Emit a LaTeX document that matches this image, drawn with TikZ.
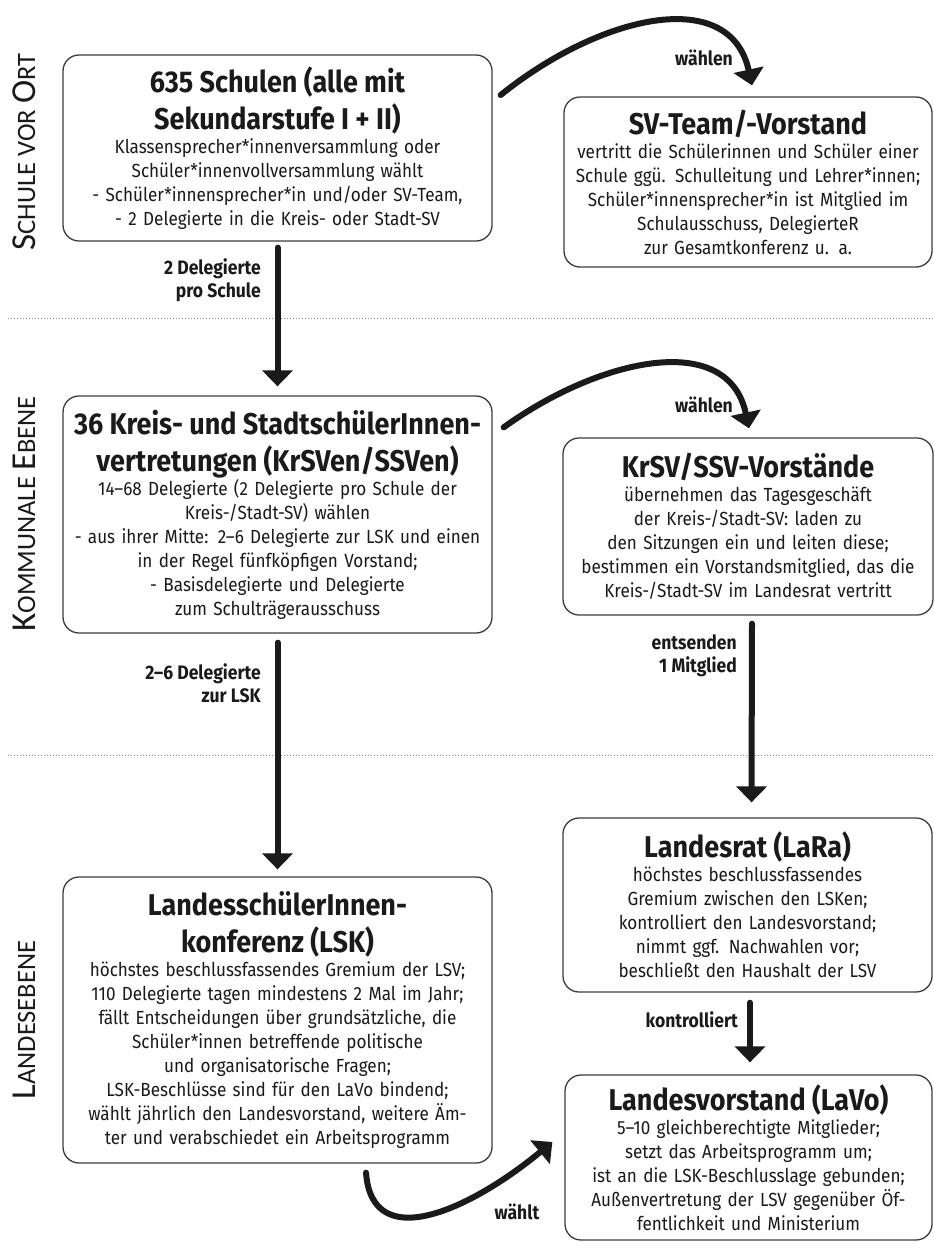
\documentclass[tikz,border=0pt]{standalone}
\usepackage{fontspec}
\setmainfont{Fira Sans}[FakeStretch=0.9]
\newfontfamily\sidefont{Carlito}
\usetikzlibrary{arrows.meta}
\definecolor{ink}{HTML}{1A1A1A}
\definecolor{frame}{HTML}{3C3C3C}
\newcommand\hd[1]{{\bfseries\fontsize{30}{37}\selectfont #1\par}}
\newcommand\bigC[1]{{\fontsize{35}{35}\selectfont #1}}
\tikzset{
  box/.style={draw=frame, line width=1.3pt, rounded corners=16pt, align=center,
    inner sep=0pt, text=ink, font=\fontsize{19}{24}\selectfont},
  flow/.style={draw=ink, line width=6pt, line cap=round, -{Triangle[width=30pt,length=16pt]}},
  lbl/.style={font=\bfseries\fontsize{19.5}{23}\selectfont, align=right, inner sep=0pt, text=ink},
  sidelbl/.style={rotate=90, inner sep=0pt, text=ink, font=\sidefont\fontsize{26.5}{27}\selectfont},
  levelline/.style={draw=gray, line width=1pt, dotted}
}
\begin{document}
\begin{tikzpicture}[x=1pt,y=-1pt]
\useasboundingbox (0,0) rectangle (934,1248);
\fill[white] (0,0) rectangle (934,1248);

% level separators
\coordinate (s1a) at (8,318); \coordinate (s1b) at (934,318);
\coordinate (s2a) at (8,755); \coordinate (s2b) at (934,755);
\draw[levelline] (s1a) -- (s1b);
\draw[levelline] (s2a) -- (s2b);

% side labels
\node[sidelbl] (side1) at (24,152) {\bigC{S}CHULE VOR \bigC{O}RT};
\node[sidelbl] (side2) at (24,514) {\bigC{K}OMMUNALE \bigC{E}BENE};
\node[sidelbl] (side3) at (24,1020) {\bigC{L}ANDESEBENE};

% boxes
\node[box, text width=425pt, minimum width=429pt, minimum height=186pt] (b1) at (277.5,148) {%
\hd{635 Schulen (alle mit\\Sekundarstufe I + II)}%
Klassensprecher*innenversammlung oder\\
Schüler*innenvollversammlung wählt\\
- Schüler*innensprecher*in und/oder SV-Team,\\
- 2 Delegierte in die Kreis- oder Stadt-SV};

\node[box, text width=364pt, minimum width=368pt, minimum height=170pt] (b2) at (748,182) {%
\hd{SV-Team/-Vorstand}%
vertritt die Schülerinnen und Schüler einer\\
Schule ggü. Schulleitung und Lehrer*innen;\\
Schüler*innensprecher*in ist Mitglied im\\
Schulausschuss, DelegierteR\\
zur Gesamtkonferenz u. a.};

\node[box, text width=425pt, minimum width=429pt, minimum height=237pt] (b3) at (277.5,514.5) {%
\hd{36 Kreis- und StadtschülerInnen-\\vertretungen (KrSVen/SSVen)}%
14–68 Delegierte (2 Delegierte pro Schule der\\
Kreis-/Stadt-SV) wählen\\
- aus ihrer Mitte: 2–6 Delegierte zur LSK und einen\\
in der Regel fünfköpfigen Vorstand;\\
- Basisdelegierte und Delegierte\\
zum Schulträgerausschuss};

\node[box, text width=366pt, minimum width=370pt, minimum height=177pt] (b4) at (748,526.5) {%
\hd{KrSV/SSV-Vorstände}%
übernehmen das Tagesgeschäft\\
der Kreis-/Stadt-SV: laden zu\\
den Sitzungen ein und leiten diese;\\
bestimmen ein Vorstandsmitglied, das die\\
Kreis-/Stadt-SV im Landesrat vertritt};

\node[box, text width=425pt, minimum width=429pt, minimum height=286pt] (b5) at (277.5,1020) {%
\hd{LandesschülerInnen-\\konferenz (LSK)}%
höchstes beschlussfassendes Gremium der LSV;\\
110 Delegierte tagen mindestens 2 Mal im Jahr;\\
fällt Entscheidungen über grundsätzliche, die\\
Schüler*innen betreffende politische\\
und organisatorische Fragen;\\
LSK-Beschlüsse sind für den LaVo bindend;\\
wählt jährlich den Landesvorstand, weitere Äm-\\
ter und verabschiedet ein Arbeitsprogramm};

\node[box, text width=365pt, minimum width=369pt, minimum height=174pt] (b6) at (747.5,905) {%
\hd{Landesrat (LaRa)}%
höchstes beschlussfassendes\\
Gremium zwischen den LSKen;\\
kontrolliert den Landesvorstand;\\
nimmt ggf. Nachwahlen vor;\\
beschließt den Haushalt der LSV};

\node[box, text width=363pt, minimum width=367pt, minimum height=165pt] (b7) at (748.5,1157.5) {%
\hd{Landesvorstand (LaVo)}%
5–10 gleichberechtigte Mitglieder;\\
setzt das Arbeitsprogramm um;\\
ist an die LSK-Beschlusslage gebunden;\\
Außenvertretung der LSV gegenüber Öf-\\
fentlichkeit und Ministerium};

% straight connectors
\draw[flow] ([yshift=-6pt]b1.south) -- ([yshift=9pt]b3.north);
\draw[flow] ([yshift=-9pt]b3.south) -- ([yshift=7pt]b5.north);
\draw[flow] ([shift={(4pt,-8pt)}]b4.south) -- ([shift={(4pt,15pt)}]b6.north);
\draw[flow] ([shift={(2.5pt,-10pt)}]b6.south) -- ([shift={(1.5pt,12pt)}]b7.north);

% curved connectors
\draw[flow] ([shift={(8pt,53pt)}]b1.east) .. controls (600,15) and (730,-15) .. ([shift={(4pt,11pt)}]b2.north);
\draw[flow] ([shift={(11pt,-32pt)}]b3.north east) .. controls (600,358) and (728,330) .. ([shift={(1pt,9pt)}]b4.north);
\draw[flow] ([shift={(88.5pt,-9pt)}]b5.south) .. controls (372,1255) and (470,1210) .. ([shift={(-12pt,15.5pt)}]b7.west);

% connector labels
\node[lbl, anchor=east] (l1) at (261,280) {2 Delegierte\\pro Schule};
\node[lbl, anchor=east] (l2) at (261,683) {2–6 Delegierte\\zur LSK};
\node[lbl, anchor=east] (l3) at (737,656) {entsenden\\1 Mitglied};
\node[lbl, anchor=east] (l4) at (738,1020) {kontrolliert};
\node[lbl] (l5) at (704,58) {wählen};
\node[lbl] (l6) at (704,405) {wählen};
\node[lbl] (l7) at (517,1212) {wählt};
\end{tikzpicture}
\end{document}
